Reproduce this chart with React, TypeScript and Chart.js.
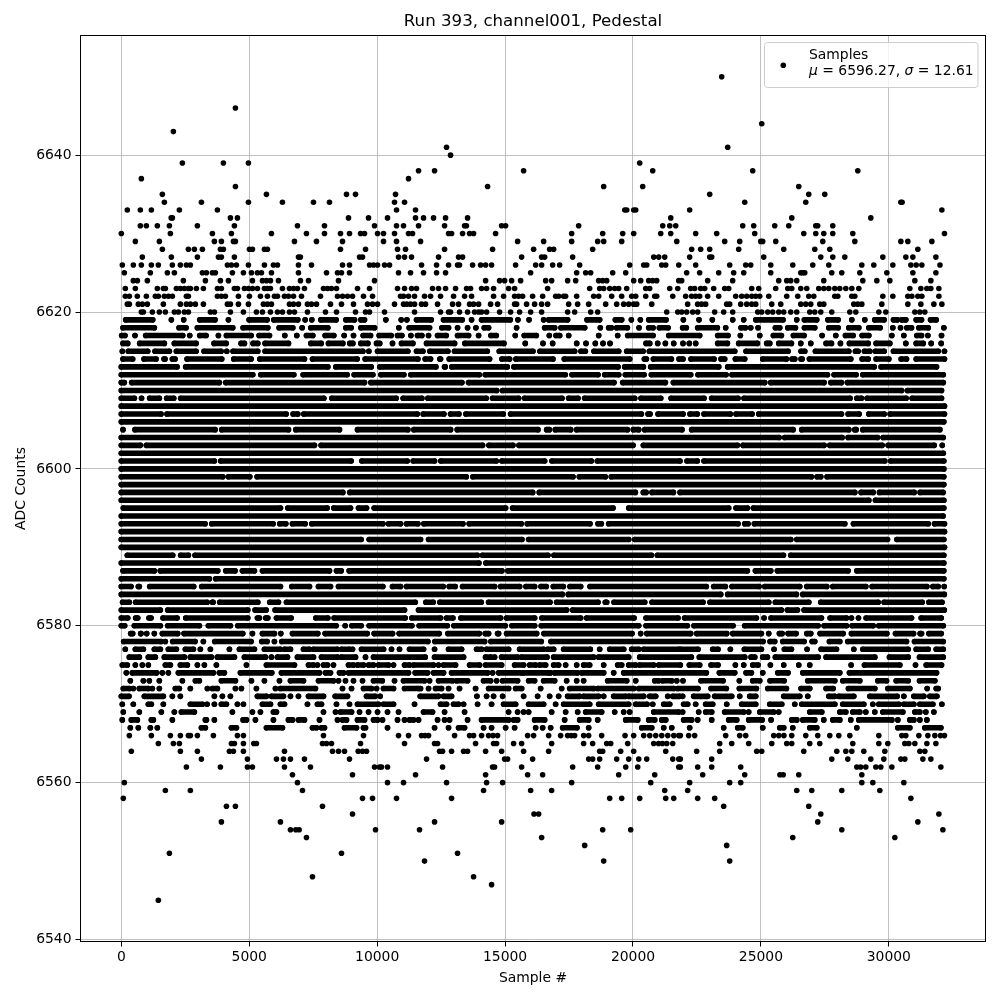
import React, { useEffect, useRef } from "react";
import { Chart, registerables } from "chart.js";

Chart.register(...registerables);

const chartTitle = "Run 393, channel001, Pedestal";
const xTitle = "Sample #";
const yTitle = "ADC Counts";
const xTicks = [0, 5000, 10000, 15000, 20000, 25000, 30000];
const yTicks = [6540, 6560, 6580, 6600, 6620, 6640];
const legendSeries = "Samples";
const meanLabel = "6596.27";
const sigmaLabel = "12.61";

// ADC levels where samples are close enough to form runs, and the [first, last, first, last...] sample # of each run.
const runLevels = [
  6619, 6618, 6617, 6616, 6615, 6614, 6613, 6612, 6611, 6610, 6609, 6608, 6607, 6606, 6605, 6604, 6603, 6602,
  6601, 6600, 6599, 6598, 6597, 6596, 6595, 6594, 6593, 6592, 6591, 6590, 6589, 6588, 6587, 6586, 6585, 6584,
  6583, 6582, 6581, 6580, 6579, 6578, 6577, 6576, 6575, 6574, 6573, 6572, 6571, 6570, 6569, 6568, 6567,
];
const runSamples: number[][] = [
  [170,1226,1956,1956,2438,2438,3064,3664,4186,4186,4994,5698,5959,6898,7185,7185,7446,7446,7798,8398,8776,9115,9363,9506,10340,10340,10940,10940,11161,11161,11539,12114,12595,13326,13691,13691,14082,15204,15503,15503,15938,15938,16508,16508,16703,17446,18203,18698,19311,19559,19937,19937,20289,20289,20615,21293,21970,21970,22581,22581,23103,23103,23899,23899,24328,24328,24802,25867,26402,26402,26701,27183,27618,28020,28554,28554,29062,29062,29449,29817,30184,30340,30510,30666,31070,31279,31632,31853],
  [65,1291,2256,2530,2973,4355,4760,5725,6168,6703,7068,7068,7407,8072,8776,8984,9363,9897,10848,10848,11252,12048,12530,12791,13143,13143,13534,13534,13860,13860,14186,14356,15451,15451,16547,16938,17186,18112,18724,18724,19050,19155,19363,19781,20237,20237,20615,20785,21032,21372,21942,22086,22529,23298,23624,23624,24224,24394,24602,24602,24889,24889,25567,25737,26050,26350,26702,27106,27654,28019,28436,28827,29219,29662,30158,30158,30458,30458,30705,30888,31175,31540,32153,32153],
  [13,143,535,535,952,2399,2673,2673,3064,3312,3795,3795,4108,5073,5386,5790,6390,6390,6859,6859,7237,7485,7967,8306,8711,8711,9076,9076,9454,9741,10080,10548,10796,10966,11318,11318,11578,11748,12009,12009,12361,12700,13143,13574,13965,13965,14447,14656,15399,15399,15751,16221,16729,16729,16990,17134,17486,17486,18659,18659,19402,19402,19794,20785,21398,22607,23312,23716,24198,24198,24955,24955,25489,25802,26272,26689,27393,27393,27928,27928,28306,28606,28958,29219,30118,30118,30588,30588,31096,31279,31527,31527,32061,32061],
  [65,248,717,1682,2073,2921,3625,4095,4681,4812,5151,5333,5620,6533,7407,7811,8098,8659,8932,9050,9363,9637,9976,10100,10600,10600,10953,11396,11931,13026,13430,14956,15790,15790,16482,16482,16860,16860,17799,17799,18164,18164,18529,18529,18829,18829,19103,19103,20511,20654,20967,20967,21267,21267,21593,21593,21955,21955,22203,22203,22451,22451,23312,23690,24133,24863,25228,25346,25698,26193,26558,26558,26949,26949,27549,27758,28110,28110,28462,29193,29505,30040,30666,30666,31070,31344,31657,31657,32048,32048],
  [39,39,274,1030,1317,1878,2152,2921,3234,3899,4121,4121,4368,5333,5620,9441,9676,9676,10015,11200,11539,11787,12061,12765,13026,14304,14773,16090,16364,17720,17968,18138,18477,19442,19755,20394,20641,23977,24420,26063,26571,26715,27132,28436,28697,28801,29049,29258,29479,29818,30184,31931,32176,32176],
  [65,443,887,1356,1669,1708,1995,2100,2569,3925,4394,5073,5412,7159,7472,9219,9532,11592,11878,12087,12452,12478,12817,14395,14878,15178,15425,16873,17316,19872,20446,20524,20798,21502,21800,21955,22268,23168,23442,23585,24003,24368,25072,25998,26219,26324,26571,26611,26897,28514,28958,29193,29505,30001,30483,30692,31070,32176],
  [0,2178,2516,8072,8384,9767,10106,12296,12634,12661,12921,15087,15347,19416,19676,20407,20693,23351,23702,29428,29701,31866],
  [0,5138,5450,6742,7107,8828,9102,9832,10145,11044,11317,13991,14225,17355,17616,18633,18894,19442,19702,20433,20719,22256,22542,23638,23872,27602,27862,28723,28984,32130],
  [0,118,405,3834,4081,9506,9754,13313,13573,19259,19598,21268,21580,25150,25385,27472,27732,28150,28384,32130],
  [0,14670,14900,30500,30730,32060],
  [0,510,790,790,1108,1487,1773,2048,2321,7916,8228,10744,11017,11748,11982,14265,14512,15530,15764,17225,17485,17851,18111,20068,20315,21085,21489,22777,23076,24107,24341,28489,28749,28932,29153,30679,30913,32060],
  [0,32176],
  [0,1552,1786,6442,6715,6898,7133,11566,11800,12609,12869,13196,13469,14930,15216,20329,20589,20668,20980,21956,22229,22516,22777,23807,24028,24655,24915,28150,28410,28841,29218,29819,30053,32176],
  [0,32150],
  [65,65,534,3665,3925,6533,6820,8528,9232,11201,11435,12870,13130,16286,16625,16730,16964,17564,17798,19781,20015,20224,20458,21916,22294,26259,26597,28436,28671,28723,28984,31996],
  [0,25711,25932,28176,28410,29558,29779,32127],
  [0,744,978,7550,7811,14121,14369,15308,15542,20003,20406,24081,24302,27472,27693,29740,29975,31775,32090,32090],
  [0,32130],
  [0,3638,3886,8985,9402,11175,11409,12244,12491,14656,14877,16547,16833,18373,18607,21838,22112,22516,22777,29845,30079,32150],
  [0,32150],
  [0,3964,4186,5021,5307,13483,13743,17655,17903,18920,19154,26976,27197,27341,27588,32150],
  [0,32150],
  [0,8659,8932,16078,16338,20094,20406,20511,20745,21580,21841,28671,28918,29388,29636,30992,31226,32120],
  [0,29219,29479,32150],
  [78,6220,6507,8046,8306,8959,9271,9585,9884,15021,15295,19220,19833,23742,24028,24472,24706,32150],
  [0,32120],
  [0,3273,3534,5933,6194,6429,6689,7185,7446,10223,10444,10914,11148,11592,11826,13352,13599,15634,15868,18320,18633,18764,19050,24107,24367,24498,24746,28280,28618,31540,31787,32176],
  [0,32176],
  [0,9376,9688,11696,12009,15660,15921,19833,20067,26168,26402,29949,30314,32150],
  [0,32176],
  [235,2008,2321,2621,2882,13913,14121,16677,16912,20720,20954,25881,26167,32150],
  [0,13978,14251,32150],
  [65,1291,1525,3769,4081,4447,4733,5203,5516,8137,8411,8594,8906,14878,15112,24472,24785,25385,25645,28410,28749,32150],
  [0,3443,3690,32150],
  [0,378,665,704,1108,2830,3142,6220,6663,7355,7706,8176,8489,10223,10600,10914,11148,12583,12817,13052,13338,14591,14825,15569,15816,16156,16403,16612,16885,17277,17537,17955,18320,22868,23155,23612,23872,24929,25150,26520,26793,27576,27810,29102,29349,31488,31722,31931,32165,32165],
  [0,17238,17472,23429,23702,26389,26637,32170],
  [50,313,560,3352,3586,3560,3847,5334,5803,6142,6455,11487,11904,12192,12452,14069,14356,16756,17016,18633,18920,18972,19259,20459,20745,22738,23011,25307,25567,26872,27341,29584,29818,31305,31566,32080],
  [0,1526,1812,4942,5229,5660,6011,11070,11617,17408,17642,25802,26036,26429,26689,32170],
  [0,250,560,640,1082,1160,1630,2178,2517,4942,5320,5399,5646,5725,6064,6637,7602,8072,8320,11096,11357,12479,12713,12961,13273,14826,15060,16156,16442,17955,18189,20042,20511,21760,22020,24824,25124,25124,25398,27367,27706,28345,28540,28540,28815,28815,29114,30888,31266,32050],
  [0,130,509,1526,1812,3052,3403,4264,4551,8398,8750,8750,9010,9376,9688,11357,11643,12739,13000,15008,15268,16156,16416,20224,20511,22125,22385,23912,24367,27237,27471,28345,28566,29388,29609,32130],
  [365,443,756,769,991,991,1291,1291,1604,2204,2452,4747,5125,5125,5516,5985,6233,6233,6690,7681,7967,9611,9884,10601,10861,12426,12765,13991,14225,14356,14708,14747,15060,16234,16520,19963,20300,20300,20537,22256,22490,23664,23898,25020,25306,25306,25724,25829,26063,26376,26793,26950,27314,28215,28540,29923,30262,30966,31226,31279,31566,32050],
  [91,1552,1721,1721,2008,2882,3208,3208,3651,5073,5490,5698,5985,5985,6272,11983,12257,14200,14447,16416,16794,25085,25359,25541,25854,26689,27002,27106,27680,28084,28397,30692,31005,32127],
  [156,156,548,861,1291,1526,1839,2152,2504,2817,3090,3090,3482,3482,4225,4225,4616,5203,5594,6220,6377,6611,7120,7355,7511,8450,8606,8919,9037,9037,9389,10250,10561,10561,10874,10874,11266,11813,12244,12244,12791,13300,13887,14082,14278,15138,15569,16508,16664,16899,17290,18333,18698,18698,19090,19637,19950,20224,20420,21789,21851,22542,23116,23325,23807,23807,24355,25020,25515,25515,25919,26193,26806,26806,27354,27954,28632,28632,28984,30757,31070,31540,31853,32127],
  [313,704,1056,1330,1682,2465,2699,3521,3756,4421,4812,5633,5868,5868,6103,6494,6885,7511,7824,8450,8606,9154,9545,9545,9858,11878,12244,13378,14239,14447,14591,14591,14865,15490,15647,16638,16899,18464,18659,19833,20263,22281,22594,24368,24615,24759,25072,25254,25567,27237,27549,29453,30027,30757,31201,32127],
  [39,235,548,548,821,821,1056,1056,1721,1917,2308,2582,2973,2973,3247,3247,3716,3716,4890,4890,5672,6768,7316,7511,7667,7667,7902,8059,8293,8293,8880,9076,9232,9467,9663,9858,10054,10444,10640,10640,11070,11266,11422,12204,12400,12400,12596,13065,13613,14004,14239,14865,15373,15725,15960,16195,16351,16586,16899,17094,17368,17368,17799,17799,18072,18307,18855,18855,19402,19559,19833,20107,20263,20811,21006,21851,22203,22607,23051,23325,24003,24003,24329,24329,24681,24889,25372,25372,25893,25893,26480,26480,26910,26910,28527,28527,29049,30431,31044,31044,31462,32061],
  [196,196,430,1382,1604,1604,1839,1839,2230,3599,3834,4029,4655,5881,6259,7746,7980,8176,8528,8685,8880,11226,11487,11970,12204,12596,12909,14317,14512,14512,14747,15647,15725,16703,16781,16781,16938,17838,17994,18855,19246,19246,19637,22868,23377,23977,24420,24629,25072,25072,25659,26063,26637,28084,28462,31866],
  [352,352,861,861,1095,1095,1487,1487,2386,2386,2895,3051,3912,4460,5086,5086,5594,5594,6181,6181,6611,7120,7707,8293,8489,8489,8763,8763,9076,9076,9428,9428,9858,10200,10679,10679,11031,11852,12048,12048,12400,12948,13104,13534,14160,14434,14669,14669,14904,15490,15921,16155,16508,16938,17407,17407,17799,17799,18072,18072,19011,19755,20107,20107,20850,21006,21163,21515,21711,21711,21955,21955,22659,23520,24159,24159,24681,24955,25359,25906,26832,27889,28201,28867,29571,29910,30288,30757,31201,31800],
  [78,313,469,469,704,1056,1213,1213,1487,1487,2112,2269,2699,2699,3364,3364,3560,3756,4460,4460,4694,4694,5281,5281,6024,6024,6220,7589,8646,8646,8998,8998,9467,9780,9976,9976,10248,10640,11070,11618,11696,11696,12009,12009,12283,12517,12791,12791,13221,13221,13847,13847,14356,15138,15412,15647,16390,16390,17212,17212,17525,18464,18620,20028,20224,21593,21750,22542,23051,23650,24159,24824,25268,25998,26571,26911,27549,27823,28423,29453,29962,30823,31500,31500,31853,31931],
  [0,300,900,1643,1995,1995,2308,2308,3638,3638,3951,3951,4264,4264,5320,5672,5868,6337,6611,6611,6924,6924,7316,7902,8359,8841,9584,9923,10118,10118,11683,12400,12596,12909,13900,13900,14278,14278,14551,14551,14904,14904,15725,15725,16273,16273,16742,16742,17094,17094,17446,17916,18072,18659,18855,18855,19246,19715,19833,20420,20655,20889,21359,21359,21554,21829,21942,21942,22373,22920,23194,23859,24172,24172,24563,24798,25893,26519,26832,26832,27654,27889,28045,28632,29258,30327,30588,30588,30979,31370,31605,31879],
  [39,39,469,469,1056,1174,1643,1643,2699,3169,3351,3351,3638,3638,3912,4108,4538,4538,4773,4773,5516,5829,6220,6377,7276,7276,7667,7824,8411,8411,8919,8919,9232,10054,10248,10640,11461,11461,12478,12713,12987,13182,13378,13378,13926,13926,14473,14473,14943,15412,15921,16508,16977,16977,17290,18307,18659,19833,20107,20550,20772,20772,21202,21437,21981,22138,22451,22451,22842,23116,23664,23664,24250,24798,25346,25815,26324,26324,26598,27889,28201,29023,29375,29375,29610,30392,30588,30979,31214,31723,32074,32074],
  [78,78,704,704,1565,1565,2073,2073,2347,2856,4342,4342,5125,5125,5438,5438,5946,6064,7902,7902,8372,8372,8567,9000,9311,9311,9663,9663,10015,10015,10405,10405,10835,10835,11813,12165,12635,12635,13417,13417,15138,15138,15490,15490,15725,15725,15921,15921,16821,16821,17368,17368,17838,17838,18151,18776,19285,19285,19637,19637,19872,19872,20811,21789,21942,21942,22568,22568,22842,23077,23585,24329,24524,24524,24955,25502,25698,25698,26910,27380,28084,28319,28593,28867,29101,29101,29453,29453,29766,30548,31018,31214,31448,31448,31762,31762],
  [39,39,391,626,1174,1252,1995,1995,3286,3325,3638,3638,4760,4890,5242,5242,5946,5946,6533,6690,6924,7159,7746,7746,8450,8450,8646,8802,9232,9506,9858,10015,10209,10209,10796,10796,11070,11070,11266,11422,11618,11618,12361,12361,12635,12635,12830,12830,13534,13534,14082,15138,15334,15490,16155,16547,17329,17329,17916,18268,18620,18620,19715,20185,20615,20850,21124,21280,21981,22294,22529,22529,23077,23077,23742,24055,24524,25046,25398,25398,26207,26402,26637,27106,27458,27458,27810,28084,28514,28514,28827,30118,30353,30353,30822,30979,31214,31214,31488,31488],
  [352,352,665,665,1134,1134,1408,1408,3130,3286,4303,4499,5672,6298,7472,7628,7824,7941,8724,9193,9467,9545,10405,10405,12244,12244,12791,12791,13182,13417,14160,14160,14473,14473,15021,15021,15373,15373,16195,16195,16469,16469,16782,16782,17251,17811,18268,18268,20341,20733,21202,21202,21515,21515,22216,22216,23546,23546,24094,24290,25072,25072,25737,25893,26246,26246,26910,27184,28749,28749,30353,30822,31409,32035],
];

// Levels with isolated samples, and the sample # of each dot.
const dotLevels = [
  6650, 6646, 6644, 6643, 6641, 6640, 6639, 6638, 6637, 6636, 6635, 6634, 6633, 6632, 6631, 6630, 6629, 6628,
  6627, 6626, 6625, 6624, 6623, 6622, 6621, 6620, 6566, 6565, 6564, 6563, 6562, 6561, 6560, 6559, 6558, 6557,
  6556, 6555, 6554, 6553, 6552, 6551, 6550, 6548, 6547, 6545,
];
const dotSamples: number[][] = [
  [23468],
  [4460],
  [25033],
  [2034],
  [12713,23703],
  [12869],
  [2386,3990,4968,20263],
  [11618,12244,15725,20772,24681,28788],
  [782,11226],
  [4460,14317,18855,20381,26480],
  [1604,5672,8802,9154,10718,22999,26871,27497],
  [1682,3130,4968,6298,7511,8137,10679,11070,24368,26754,30471,30520],
  [235,743,1174,2269,3756,10757,11500,19755,19680,20107,20030,22216,32074],
  [1995,1950,4264,4538,8880,9663,10405,11500,11813,12204,12674,13534,21476,26207,29297],
  [743,978,1408,1878,2973,4420,6885,7941,9897,10757,11031,11618,12635,13417,13490,14865,15021,17877,21163,21437,21671,24290,24720,25541,26089,27145,27220,27810],
  [0,1917,3560,4303,5868,7237,7941,8567,8919,9350,9506,10015,10248,10679,11226,11383,12791,12910,13339,13613,13769,14630,17603,18816,19598,20028,21085,21476,22451,23272,24759,26676,27145,27458,27810,28593,32176],
  [548,1487,3638,3912,4382,4460,6768,7628,8646,10248,10757,11696,15490,16508,17603,18620,18855,19559,21711,23585,24172,24994,25070,25580,27419,28671,30471,30744,31683],
  [1604,2621,2856,3169,3873,3990,5007,5125,5594,5711,8567,9545,10796,11109,12635,14512,16116,16742,16899,18424,22294,22646,22999,24133,25893,27106,27693,31135],
  [821,1956,2973,3795,3912,4420,6924,7000,9311,9428,10835,11070,11344,12400,13182,13339,15647,16429,16547,17642,20811,21006,21241,22216,22999,23077,25111,27341,27810,28280,29766,30666,30940,31840],
  [39,469,782,1174,1447,1995,2308,2543,2699,4147,4303,4499,4968,5594,5946,6103,6924,7433,8646,8919,9702,9858,10015,10288,10483,11735,12322,12791,13143,13220,13730,14043,14239,14473,15412,16195,16429,16860,17134,17916,19872,20420,20537,21124,21280,21789,22451,23781,24407,24603,25385,26246,27028,27654,28945,29414,30158,30862,31070,31292,32000],
  [117,1134,1800,2073,3169,3325,3560,3677,4342,4773,5086,5320,5477,5868,6924,8020,8450,8606,8919,10835,11305,11813,12322,12674,16000,17799,18151,18346,19207,19716,22099,22607,23351,23937,24329,25385,26558,26715,26630,27771,28162,28867,29923,30940,31840],
  [469,626,1017,2425,3286,3873,4186,5125,5516,5672,5829,6142,7002,7316,8489,9897,14239,14786,14982,15256,15608,16586,16821,17446,17760,18659,18816,18972,20028,20302,20615,20770,20928,21789,21903,22920,23898,25698,26011,26167,26402,27458,28984,29532,30040,31018,31644],
  [156,548,1408,1643,1721,2152,2308,2465,2621,2699,2934,3208,3756,3912,4420,4538,4812,4968,5125,5320,5594,5711,5829,6298,6572,6729,6885,7159,7902,8059,8215,8411,9232,9702,10796,11070,11344,11539,12165,12400,12674,13065,13652,13495,14082,14278,14551,15138,15373,16664,18307,18698,18855,19090,19285,19442,19755,20498,20655,21437,21750,22255,22412,22647,22803,23155,23586,23742,24642,24916,25580,26050,26207,26558,26793,27262,27458,27654,27889,28084,28319,28554,28828,30822,31253,31488,31644,31957],
  [156,313,626,978,1330,1447,1682,1839,1995,2543,2621,3756,3912,4068,4577,5007,5438,5711,5985,6103,6377,6533,6729,7042,7785,8450,8646,8841,9037,9467,9819,10913,11031,11226,11461,11852,12087,12478,12987,13417,13691,14551,14943,15373,15530,15686,16077,16469,16977,17094,17290,17368,17799,18464,18659,19168,19559,19950,20107,20498,20850,20928,21554,22060,22294,22451,22607,22920,23351,24016,24250,24446,24642,24798,24955,25307,26011,26441,26871,27067,27888,28006,28554,28671,29766,30158,30744,30900,31135,31292,31957],
  [235,313,665,821,1017,1643,2308,2543,2699,2895,3208,4147,4264,4577,4968,5555,5711,5868,6572,6729,6924,7276,7433,7628,8176,8606,9076,9623,9819,10015,10679,11031,11161,11305,11461,11735,11891,12361,12948,13182,13613,13769,13965,14434,14708,15373,15451,15842,16155,16429,16664,17486,17838,18268,18933,19363,19637,19833,20028,20146,20733,22138,22529,22686,22842,23664,23781,24211,24446,24642,24798,25424,25776,26559,26754,26949,27302,27458,28632,28789,28945,29727,30744,31253,31762,32074],
  [782,860,1213,1487,1721,2073,2230,2465,2621,3482,3638,4264,4773,5281,5516,5829,6103,6298,6572,6768,7276,7980,8411,9154,9545,9702,10288,11461,12478,12791,12869,13221,13534,13809,13965,14082,14278,14786,15217,15569,16000,16429,17446,17720,18346,18620,21319,21750,21903,22099,22334,22529,23194,23546,23898,24876,25033,25268,25463,25698,25893,26167,26402,26910,27106,27341,27771,28475,28710,29610,29884,31018,31214,31409],
  [313,1174,1917,2308,2621,2699,2973,3599,4538,4773,7902,9467,10835,11226,11735,11870,12009,13026,13613,13769,14082,14356,14530,14708,15882,16116,16703,17172,17446,17590,17720,18072,18268,18776,19690,20028,20420,20655,20890,21125,21360,21595,21789,21851,22177,22412,23625,24172,24407,25502,25700,25900,26206,26754,27223,27693,28045,28476,29610,30510,30666,31174,31527,31800,32020,32176],
  [1447,2034,2269,4303,4420,4773,5177,5281,7863,8020,8215,9350,11070,12244,12361,13847,14551,14669,15334,15647,16821,18072,18424,18972,19129,19794,20811,21000,21150,21320,21554,23390,23859,24524,25424,26011,26206,26910,27302,28593,29610,29962,30627,30783,31018,31488,31840],
  [391,2308,2973,4225,4382,4773,6377,8254,8489,8724,9259,9428,9584,12440,12557,12909,13378,13534,14239,14865,15725,16703,18698,18816,19520,20028,21280,22490,23390,24837,25033,26676,27967,28319,28554,29023,29844,31214,31409],
  [3130,4929,6064,6337,6611,7159,8919,11931,14982,15099,16077,18268,18424,18698,19363,19833,20224,20537,21554,21789,21851,23077,27771,28397,29297,29805,30471,30627,31331,31644],
  [2543,3873,4929,5125,6377,7394,9897,10093,10170,10405,12557,14510,14590,15647,17642,18620,19716,20185,21789,21851,22529,23077,24212,28749,28900,29101,29493,29688,30119,32035],
  [6690,9037,11500,14239,15882,16469,19442,20850,22725,24368,25744,25872,26480,28945],
  [117,6885,10405,11031,12713,14278,14904,17603,20693,22216,23781,24212,28945,29375,30588],
  [1721,2699,7081,14160,16000,16821,21241,22138,26402,26989,28162,29649],
  [78,9428,9819,10757,12909,19090,19559,20263,21280,21593,22529,23194,30862],
  [4108,4460,7863,23546,26871],
  [9037,16130,16313,27341,31957],
  [3912,6220,12244,14865,27223,31135],
  [6611,6820,6950,9936,11657,18816,19911,28162,32114],
  [7237,16429,26246,30236],
  [18112,23663],
  [1878,8606,13143],
  [11852,18855,23781],
  [7472,13769],
  [14473],
  [1447],
];

function App() {
  const ref = useRef<HTMLCanvasElement>(null);
  useEffect(() => {
    if (!ref.current) return;
    const runDatasets = runLevels.map((level, i) => {
      const spans = runSamples[i];
      const data: { x: number; y: number | null }[] = [];
      for (let k = 0; k < spans.length; k += 2) {
        data.push({ x: spans[k], y: level });
        if (spans[k + 1] !== spans[k]) data.push({ x: spans[k + 1], y: level });
        data.push({ x: spans[k + 1], y: null });
      }
      return {
        type: "line" as const,
        label: String(level),
        data,
        borderColor: "#000",
        backgroundColor: "#000",
        borderWidth: 5.6,
        borderCapStyle: "round" as const,
        pointRadius: 2.8,
        pointBorderWidth: 0,
        tension: 0,
        spanGaps: false,
        fill: false,
      };
    });
    const dotData = dotLevels.flatMap((level, i) => dotSamples[i].map((x) => ({ x, y: level })));

    const frameAndLegend = {
      id: "frameAndLegend",
      afterDatasetsDraw(chart: any) {
        const { ctx, chartArea: a } = chart;
        ctx.save();
        ctx.strokeStyle = "#000";
        ctx.lineWidth = 1;
        ctx.strokeRect(a.left, a.top, a.right - a.left, a.bottom - a.top);
        const bx = 764.5, by = 42.5, bw = 213.5, bh = 45;
        ctx.beginPath();
        ctx.roundRect(bx, by, bw, bh, 3);
        ctx.fillStyle = "rgba(255,255,255,0.8)";
        ctx.fill();
        ctx.strokeStyle = "#cccccc";
        ctx.stroke();
        ctx.fillStyle = "#000";
        ctx.beginPath();
        ctx.arc(783.3, 65.3, 2.8, 0, Math.PI * 2);
        ctx.fill();
        const normal = "13.9px 'DejaVu Sans'";
        const italic = "oblique 13.9px 'DejaVu Sans'";
        ctx.textBaseline = "alphabetic";
        ctx.textAlign = "left";
        ctx.font = normal;
        ctx.fillText(legendSeries, 809, 59);
        const parts: [string, string][] = [
          ["μ", italic],
          [` = ${meanLabel}, `, normal],
          ["σ", italic],
          [` = ${sigmaLabel}`, normal],
        ];
        let x = 809;
        for (const [t, f] of parts) {
          ctx.font = f;
          ctx.fillText(t, x, 75);
          x += ctx.measureText(t).width;
        }
        ctx.restore();
      },
    };

    const font = { family: "'DejaVu Sans'", size: 13.9 };
    const chart = new Chart(ref.current, {
      type: "scatter",
      data: {
        datasets: [
          ...runDatasets,
          {
            type: "scatter" as const,
            label: legendSeries,
            data: dotData,
            backgroundColor: "#000",
            borderColor: "#000",
            pointRadius: 2.8,
            pointBorderWidth: 0,
          },
        ] as any,
      },
      options: {
        animation: false,
        responsive: false,
        layout: { padding: { top: 0, right: 14.5, bottom: 0, left: 0 } },
        plugins: {
          legend: { display: false },
          tooltip: { enabled: false },
          title: {
            display: true,
            text: chartTitle,
            color: "#000",
            fullSize: false,
            font: { family: "'DejaVu Sans'", size: 16.67, weight: "normal" },
            padding: { top: 12, bottom: 3.5 },
          },
        },
        scales: {
          x: {
            type: "linear",
            min: -1596,
            max: 33780,
            afterBuildTicks: (s: any) => {
              s.ticks = xTicks.map((value) => ({ value }));
            },
            afterFit: (s: any) => {
              s.height = 58.5;
            },
            grid: { color: "#b0b0b0", lineWidth: 0.8, tickColor: "#000", tickWidth: 1, tickLength: 5, drawOnChartArea: true },
            border: { display: false },
            ticks: { color: "#000", font, padding: 3, maxRotation: 0, autoSkip: false, callback: (v: any) => String(v) },
            title: { display: true, text: xTitle, color: "#000", font, padding: { top: 2, bottom: 13 } },
          },
          y: {
            type: "linear",
            min: 6539.75,
            max: 6655.25,
            afterBuildTicks: (s: any) => {
              s.ticks = yTicks.map((value) => ({ value }));
            },
            afterFit: (s: any) => {
              s.width = 80.5;
            },
            grid: { color: "#b0b0b0", lineWidth: 0.8, tickColor: "#000", tickWidth: 1, tickLength: 5 },
            border: { display: false },
            ticks: { color: "#000", font, padding: 4, autoSkip: false, callback: (v: any) => String(v) },
            title: { display: true, text: yTitle, color: "#000", font, padding: { top: 13, bottom: 2 } },
          },
        },
      },
      plugins: [frameAndLegend],
    } as any);
    return () => chart.destroy();
  }, []);
  return (
    <div style={{ position: "absolute", left: 0, top: 0, width: 1000, height: 1000, background: "#fff" }}>
      <canvas ref={ref} width={1000} height={1000} style={{ display: "block" }} />
    </div>
  );
}

export default App;
